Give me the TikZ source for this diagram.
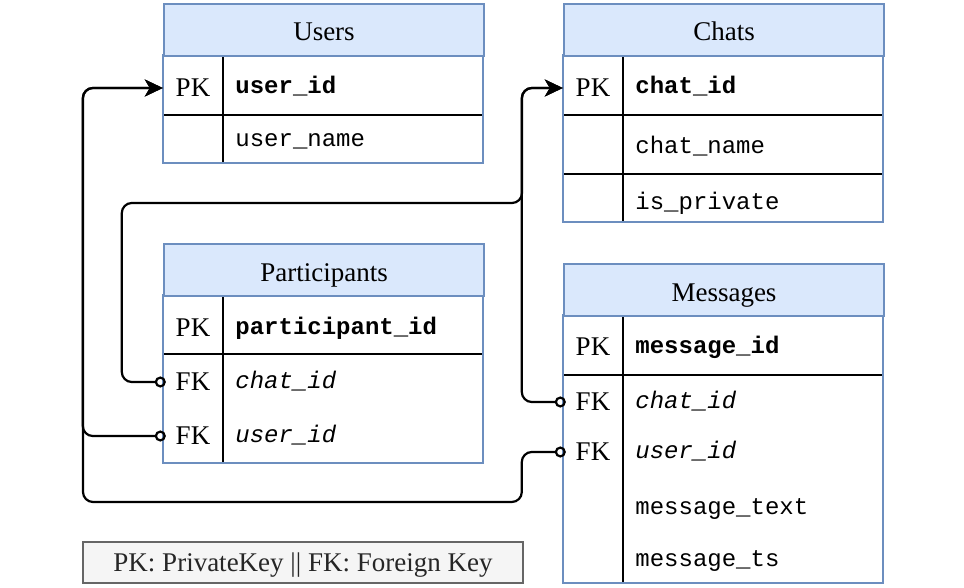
\documentclass[tikz,border=0pt]{standalone}
\usepackage{fontspec}
\setmainfont{Liberation Serif}
\setmonofont{Liberation Mono}
\usetikzlibrary{positioning,arrows.meta}
\definecolor{hdrblue}{HTML}{DAE8FC}
\definecolor{tblline}{HTML}{6C8EBF}
\definecolor{notefill}{HTML}{F5F5F5}
\definecolor{noteline}{HTML}{666666}
\newcommand{\serifsz}{\fontsize{27}{32}\selectfont}
\newcommand{\monosz}{\ttfamily\fontsize{24}{28}\selectfont}
\tikzset{
   tabhead/.style={draw=tblline, fill=hdrblue, line width=2pt, anchor=north west,
      minimum width=320pt, minimum height=52pt, inner sep=0pt,
      text height=22pt, text depth=0pt, font=\serifsz},
   tabframe/.style={draw=tblline, line width=2pt},
   tabsep/.style={draw=black, line width=2pt},
   keycell/.style={minimum width=60pt, inner sep=0pt, text height=17pt, text depth=0pt, font=\serifsz},
   fieldtxt/.style={inner sep=0pt, text height=12pt, text depth=0pt, font=\monosz},
   relline/.style={line width=2.2pt, rounded corners=10pt, shorten <=-3pt,
      arrows={Circle[open,length=11pt,width=11pt]-Stealth[length=18pt,width=17pt,inset=5pt]}},
   legendbox/.style={draw=noteline, fill=notefill, line width=2pt, minimum width=440pt,
      minimum height=41pt, inner sep=0pt, text height=17pt, text depth=0pt,
      font=\serifsz, text=black!85}
}
\begin{document}
\begin{tikzpicture}[x=1pt,y=-1pt]
   \path[fill=white] (0,0) rectangle (964,588);
   \useasboundingbox (0,0) rectangle (964,588);

   \draw[tabsep] (163,115) -- (483,115) (223,55) -- (223,163);
   \draw[tabframe] (163,55) rectangle (483,163);
   \node[tabhead] (users) at (163,3) {Users};
   \node[keycell] (upk) at (193,88) {PK};
   \node[fieldtxt, right=12pt of upk] (uid) {\bfseries user\_id};
   \node[keycell] (uk2) at (193,141) {};
   \node[fieldtxt, right=12pt of uk2] (uname) {user\_name};

   \draw[tabsep] (563,115) -- (883,115) (563,174) -- (883,174) (623,55) -- (623,222);
   \draw[tabframe] (563,55) rectangle (883,222);
   \node[tabhead] (chats) at (563,3) {Chats};
   \node[keycell] (cpk) at (593,88) {PK};
   \node[fieldtxt, right=12pt of cpk] (cid) {\bfseries chat\_id};
   \node[keycell] (ck2) at (593,148) {};
   \node[fieldtxt, right=12pt of ck2] (cname) {chat\_name};
   \node[keycell] (ck3) at (593,204) {};
   \node[fieldtxt, right=12pt of ck3] (cpriv) {is\_private};

   \draw[tabsep] (163,354) -- (483,354) (223,295) -- (223,463);
   \draw[tabframe] (163,295) rectangle (483,463);
   \node[tabhead] (parts) at (163,243) {Participants};
   \node[keycell] (ppk) at (193,328) {PK};
   \node[fieldtxt, right=12pt of ppk] (pid) {\bfseries participant\_id};
   \node[keycell] (pfk1) at (193,382) {FK};
   \node[fieldtxt, right=12pt of pfk1] (pchat) {\itshape chat\_id};
   \node[keycell] (pfk2) at (193,436) {FK};
   \node[fieldtxt, right=12pt of pfk2] (puser) {\itshape user\_id};

   \draw[tabsep] (563,375) -- (883,375) (623,315) -- (623,583);
   \draw[tabframe] (563,315) rectangle (883,583);
   \node[tabhead] (msgs) at (563,263) {Messages};
   \node[keycell] (mpk) at (593,347) {PK};
   \node[fieldtxt, right=12pt of mpk] (mid) {\bfseries message\_id};
   \node[keycell] (mfk1) at (593,402) {FK};
   \node[fieldtxt, right=12pt of mfk1] (mchat) {\itshape chat\_id};
   \node[keycell] (mfk2) at (593,452) {FK};
   \node[fieldtxt, right=12pt of mfk2] (muser) {\itshape user\_id};
   \node[keycell] (mk4) at (593,508) {};
   \node[fieldtxt, right=12pt of mk4] (mtext) {message\_text};
   \node[keycell] (mk5) at (593,560) {};
   \node[fieldtxt, right=12pt of mk5] (mts) {message\_ts};

   \draw[relline] (pfk1.west) -- ++(-41,0) |- (522,203) |- (cpk.west);
   \draw[relline] (mfk1.west) -- ++(-41,0) |- (cpk.west);
   \draw[relline] (pfk2.west) -- ++(-80,0) |- (upk.west);
   \draw[relline] (mfk2.west) -- ++(-41,0) |- (83,502) |- (upk.west);

   \node[legendbox] (legend) at (303,562.5) {PK: PrivateKey || FK: Foreign Key};
\end{tikzpicture}
\end{document}
